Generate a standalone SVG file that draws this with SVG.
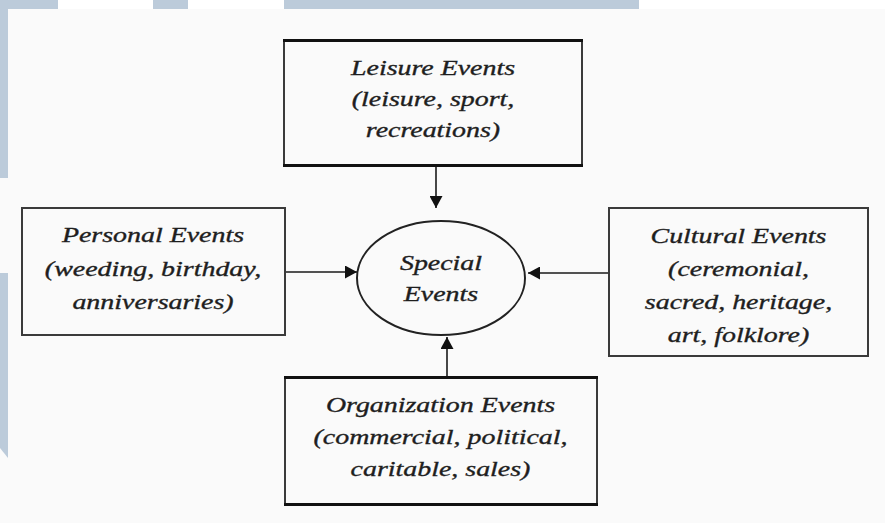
<svg xmlns="http://www.w3.org/2000/svg" width="885" height="523" viewBox="0 0 885 523">
<defs>
<style>
.bg{fill:#fafafa}
.strip{fill:#ffffff}
.blue{fill:#bccbda}
.box{fill:#fafafa;stroke:#3a3a3a;stroke-width:2}
.edge{stroke:#111;stroke-width:3.2}
.ell{fill:#fafafa;stroke:#222;stroke-width:2}
.lbl{font-family:"Liberation Serif","Times New Roman",serif;font-style:italic;font-size:21px;fill:#1e1e1e;stroke:#1e1e1e;stroke-width:0.35;text-anchor:middle}
.conn{stroke:#1a1a1a;stroke-width:1.6;fill:none;marker-end:url(#arr)}
</style>
<marker id="arr" markerUnits="userSpaceOnUse" markerWidth="13" markerHeight="13" refX="12" refY="6.5" orient="auto">
<path d="M0,0 L12,6.5 L0,13 z" fill="#111"/>
</marker>
</defs>
<rect class="bg" x="0" y="0" width="885" height="523"/>
<rect class="strip" x="0" y="0" width="885" height="9"/>
<rect class="blue" x="0" y="0" width="58" height="9"/>
<rect class="blue" x="0" y="9" width="8" height="169"/>
<rect class="blue" x="153" y="0" width="35" height="9"/>
<rect class="blue" x="284" y="0" width="355" height="9"/>
<polygon class="blue" points="0,273 8,273 8,458 0,448"/>

<g id="connectors">
<line class="conn" x1="436" y1="167" x2="436" y2="208"/>
<line class="conn" x1="286" y1="272" x2="357" y2="272"/>
<line class="conn" x1="608" y1="273" x2="528" y2="273"/>
<line class="conn" x1="447" y1="376" x2="447" y2="337"/>
</g>

<g id="leisure">
<rect class="box" x="284" y="40" width="298" height="126"/>
<line class="edge" x1="283" y1="40.5" x2="583" y2="40.5"/>
<line class="edge" x1="283" y1="165.5" x2="583" y2="165.5"/>
<g transform="translate(433,0) scale(1.33,1)">
<text class="lbl" x="0" y="75">Leisure Events</text>
<text class="lbl" x="0" y="106">(leisure, sport,</text>
<text class="lbl" x="0" y="137">recreations)</text>
</g>
</g>

<g id="personal">
<rect class="box" x="22" y="208" width="263" height="127"/>
<g transform="translate(153,0) scale(1.33,1)">
<text class="lbl" x="0" y="242">Personal Events</text>
<text class="lbl" x="0" y="276">(weeding, birthday,</text>
<text class="lbl" x="0" y="309">anniversaries)</text>
</g>
</g>

<g id="special">
<ellipse class="ell" cx="441" cy="278" rx="84" ry="57"/>
<g transform="translate(441,0) scale(1.33,1)">
<text class="lbl" x="0" y="270">Special</text>
<text class="lbl" x="0" y="301">Events</text>
</g>
</g>

<g id="cultural">
<rect class="box" x="609" y="208" width="259" height="148"/>
<g transform="translate(738.5,0) scale(1.33,1)">
<text class="lbl" x="0" y="243">Cultural Events</text>
<text class="lbl" x="0" y="276">(ceremonial,</text>
<text class="lbl" x="0" y="309">sacred, heritage,</text>
<text class="lbl" x="0" y="342">art, folklore)</text>
</g>
</g>

<g id="organization">
<rect class="box" x="285" y="377" width="312" height="128"/>
<line class="edge" x1="284" y1="377.5" x2="598" y2="377.5"/>
<line class="edge" x1="284" y1="504.5" x2="598" y2="504.5"/>
<g transform="translate(440.5,0) scale(1.33,1)">
<text class="lbl" x="0" y="412">Organization Events</text>
<text class="lbl" x="0" y="444">(commercial, political,</text>
<text class="lbl" x="0" y="476">caritable, sales)</text>
</g>
</g>
</svg>
